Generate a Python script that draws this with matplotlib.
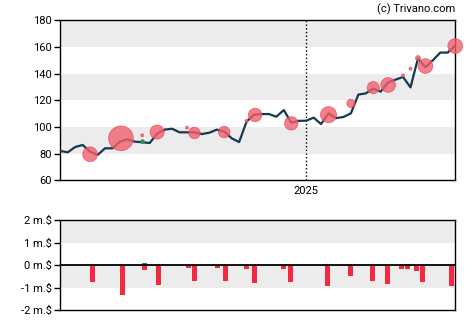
import matplotlib
matplotlib.use('Agg')
import matplotlib.pyplot as plt
import matplotlib.dates as mdates
import numpy as np
import pandas as pd

plt.rcParams['font.family'] = ['Roboto', 'DejaVu Sans']

# weekly closing prices
dates = pd.date_range('2024-05-15', periods=54, freq='7D')
prices = [82, 81, 85, 86.5, 81.5, 79, 84, 84, 89, 90.7,
          89, 88.5, 88, 95, 98, 98.7, 96, 96, 96, 94.7,
          95.7, 98, 96.6, 91.5, 88.7, 104, 109.2, 109.7, 109.7, 107.7,
          112.7, 103.2, 104.6, 104.7, 107, 102.2, 110.2, 106.6, 107.5, 110.2,
          124.3, 125.2, 128.8, 126.5, 133.5, 135.5, 137.5, 129.7, 151.3, 144.8,
          150, 155.8, 155.8, 161]

# insider sales (bubbles): date, price, amount in m.$
sell_dates = pd.to_datetime(['2024-06-12', '2024-07-11', '2024-07-31', '2024-08-14',
                             '2024-09-11', '2024-09-18', '2024-10-16', '2024-11-06',
                             '2024-11-14', '2024-12-18', '2025-01-22', '2025-02-12',
                             '2025-03-05', '2025-03-19', '2025-04-02', '2025-04-09',
                             '2025-04-16', '2025-04-23', '2025-05-21'])
sell_prices = [79.5, 91.5, 93.7, 96.2, 99.5, 95.5, 96.2, 104.5, 109, 102.7,
               109.2, 117.7, 129.5, 131.5, 138.7, 143.7, 151.7, 145.7, 160.7]
sell_amounts = [0.46, 1.30, 0.02, 0.42, 0.02, 0.28, 0.28, 0.02, 0.38, 0.38,
                0.55, 0.14, 0.31, 0.46, 0.02, 0.02, 0.05, 0.46, 0.46]

buy_dates = pd.to_datetime(['2024-07-31'])
buy_prices = [89.2]
buy_amounts = [0.02]

# net flows (bars)
flow_dates = pd.to_datetime(['2024-06-12', '2024-07-10', '2024-07-31', '2024-07-31',
                             '2024-08-13', '2024-09-10', '2024-09-16', '2024-10-07',
                             '2024-10-15', '2024-11-04', '2024-11-11', '2024-12-08',
                             '2024-12-15', '2025-01-19', '2025-02-09', '2025-03-02',
                             '2025-03-16', '2025-03-29', '2025-04-04', '2025-04-12',
                             '2025-04-18', '2025-05-15'])
flow_values = [-0.73, -1.3, 0.1, -0.2, -0.87, -0.1, -0.7, -0.1, -0.7, -0.16,
               -0.77, -0.16, -0.73, -0.9, -0.47, -0.68, -0.82, -0.16, -0.16, -0.25,
               -0.73, -0.9]

bar_red = '#f2293f'
bubble_red = '#f0606e'
line_col = '#16384f'
band = '#ececec'

fig = plt.figure(figsize=(4.7, 3.25), dpi=100)
ax = fig.add_axes([0.1283, 0.4452, 0.8402, 0.4923])
ax2 = fig.add_axes([0.1283, 0.0452, 0.8402, 0.2769])

xmin, xmax = dates[0], dates[-1]

# price panel
for lo in (80, 120, 160):
    ax.axhspan(lo, lo + 20, color=band, zorder=0, lw=0)
ax.axvline(pd.Timestamp('2025-01-01'), color='black', ls=':', lw=1, zorder=1)
ax.plot(dates, prices, color=line_col, lw=1.6, zorder=3)

k = 242  # marker area per m.$
ax.scatter(sell_dates, sell_prices, s=np.array(sell_amounts) * k,
           color=bubble_red, alpha=0.8, edgecolors='#e84a5a', linewidths=0.6,
           zorder=4, clip_on=False)
ax.scatter(buy_dates, buy_prices, s=np.array(buy_amounts) * k,
           color='#2e8b57', zorder=4)

ax.set_xlim(xmin, xmax)
ax.set_ylim(60, 180)
ax.set_yticks(range(60, 181, 20))
ax.xaxis.set_major_locator(mdates.YearLocator())
ax.xaxis.set_major_formatter(mdates.DateFormatter('%Y'))
ax.tick_params(axis='x', length=0, pad=4, labelsize=8)
ax.tick_params(axis='y', length=4, width=1, labelsize=8, pad=2)

# flow panel
ax2.axhspan(1, 2, color=band, zorder=0, lw=0)
ax2.axhspan(-1, 0, color=band, zorder=0, lw=0)
cols = ['#2e7d4f' if v > 0 else bar_red for v in flow_values]
ax2.bar(flow_dates, flow_values, width=4.6, align='edge', color=cols, zorder=2)
ax2.axhline(0, color='black', lw=1.3, zorder=3)
ax2.set_xlim(xmin, xmax)
ax2.set_ylim(-2, 2)
ax2.set_yticks([2, 1, 0, -1, -2])
ax2.set_yticklabels(['2 m.$', '1 m.$', '0 m.$', '-1 m.$', '-2 m.$'])
ax2.set_xticks([])
ax2.tick_params(axis='y', length=4, width=1, labelsize=8, pad=2)

for a in (ax, ax2):
    for sp in a.spines.values():
        sp.set_linewidth(1)

fig.text(0.968, 0.972, '(c) Trivano.com', ha='right', va='center', fontsize=8)

fig.savefig('out.png', dpi=100)
